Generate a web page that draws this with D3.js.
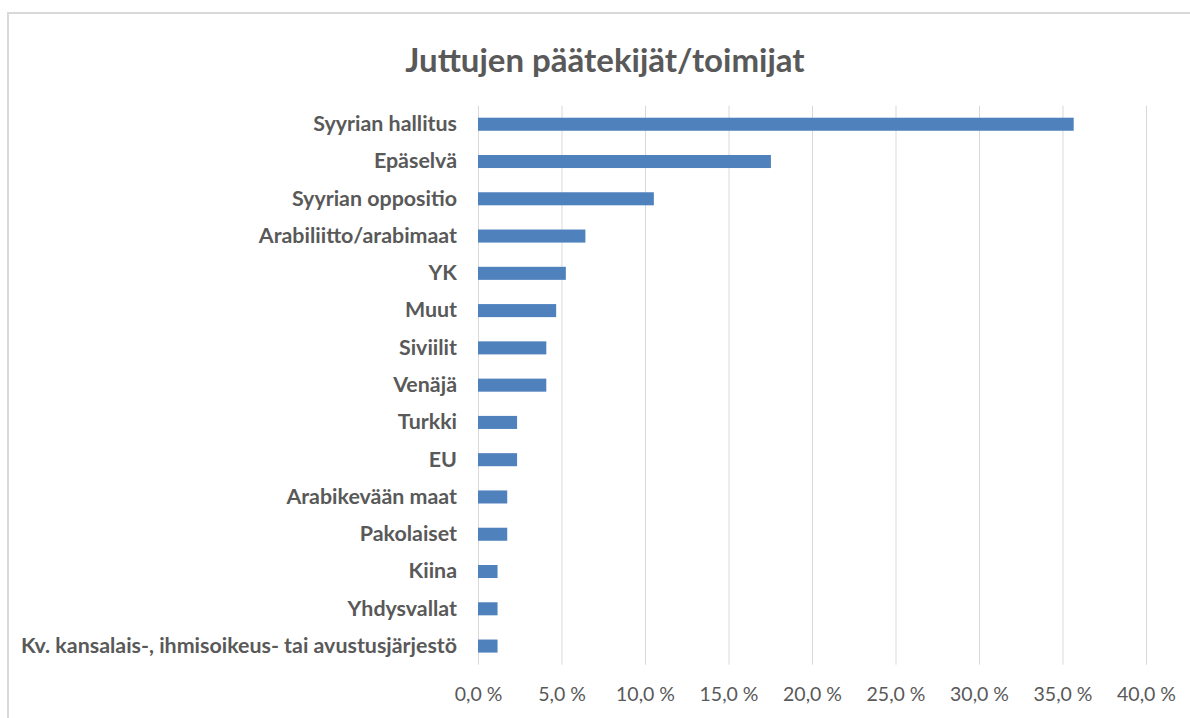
<!DOCTYPE html>
<html>
<head>
<meta charset="utf-8">
<script src="https://cdn.jsdelivr.net/npm/d3@7"></script>
<style>
  body { margin: 0; background: #fff; }
  svg { display: block; font-family: Lato, "Open Sans", sans-serif; }
</style>
</head>
<body>
<svg id="canvas" width="1190" height="718"></svg>
<script>
// data (percent of stories)
let categories = [
    'Syyrian hallitus', 'Epäselvä', 'Syyrian oppositio', 'Arabiliitto/arabimaat',
    'YK', 'Muut', 'Siviilit', 'Venäjä', 'Turkki', 'EU', 'Arabikevään maat',
    'Pakolaiset', 'Kiina', 'Yhdysvallat',
    'Kv. kansalais-, ihmisoikeus- tai avustusjärjestö'
]
let values = [35.67, 17.54, 10.53, 6.43, 5.26, 4.68, 4.09, 4.09, 2.34, 2.34, 1.75, 1.75, 1.17, 1.17, 1.17]
let tickValues = [0, 5, 10, 15, 20, 25, 30, 35, 40]
let title = 'Juttujen päätekijät/toimijat'

let canvas = d3.select('#canvas')

let plotLeft = 478, plotRight = 1146, plotTop = 105.6, plotBottom = 664.7

let xScale = d3.scaleLinear().domain([0, 40]).range([plotLeft, plotRight])
let yScale = d3.scaleBand().domain(categories).range([plotTop, plotBottom])
    .paddingInner(0.65).paddingOuter(0.325)

// frame of the chart (cut off on the right and bottom)
canvas.append('rect')
    .attr('x', 8).attr('y', 13)
    .attr('width', 1200).attr('height', 720)
    .attr('fill', 'none')
    .attr('stroke', '#d9d9d9')
    .attr('stroke-width', 2)

canvas.append('text')
    .attr('x', 605).attr('y', 72)
    .attr('text-anchor', 'middle')
    .attr('fill', '#595959')
    .attr('font-size', 33)
    .attr('font-weight', 'bold')
    .text(title)

// x axis with gridlines
let xAxis = d3.axisBottom(xScale)
    .tickValues(tickValues)
    .tickSize(-(plotBottom - plotTop))
    .tickFormat(d => d.toFixed(1).replace('.', ',') + ' %')

let xg = canvas.append('g')
    .attr('transform', 'translate(0,' + plotBottom + ')')
    .call(xAxis)
xg.select('.domain').remove()
xg.selectAll('.tick line').attr('stroke', '#d9d9d9')
xg.selectAll('.tick text')
    .attr('y', 36).attr('dy', 0)
    .attr('fill', '#595959')
    .attr('font-size', 19.5)
    .attr('font-family', 'Lato, sans-serif')

// bars
canvas.selectAll('rect.bar')
    .data(values)
    .enter()
    .append('rect')
    .attr('class', 'bar')
    .attr('x', xScale(0))
    .attr('y', (d, i) => yScale(categories[i]))
    .attr('width', d => xScale(d) - xScale(0))
    .attr('height', yScale.bandwidth())
    .attr('fill', '#4f81bd')

// category labels
let yAxis = d3.axisLeft(yScale).tickSize(0).tickPadding(21)
let yg = canvas.append('g')
    .attr('transform', 'translate(' + plotLeft + ',0)')
    .call(yAxis)
yg.select('.domain').remove()
yg.selectAll('.tick text')
    .attr('fill', '#595959')
    .attr('font-size', 21.4)
    .attr('font-weight', 'bold')
    .attr('font-family', 'Lato, sans-serif')
</script>
</body>
</html>
